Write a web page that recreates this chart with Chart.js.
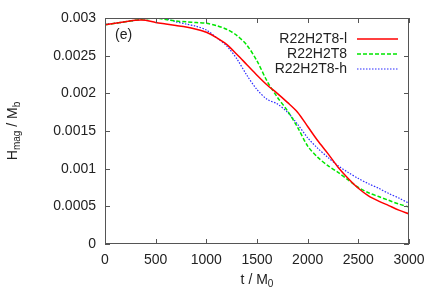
<!DOCTYPE html>
<html><head><meta charset="utf-8">
<script src="https://cdn.jsdelivr.net/npm/chart.js@4/dist/chart.umd.min.js"></script>
<style>html,body{margin:0;padding:0;background:#fff}canvas{display:block}</style>
</head><body>
<canvas id="c" width="436" height="305"></canvas>
<script>
const times = [0,100,200,300,400,500,600,700,800,900,1000,1100,1200,1300,1400,1500,1600,1700,1800,1900,2000,2100,2200,2300,2400,2500,2600,2700,2800,2900,3000];
const seriesL = [0.00291,0.00293,0.00295,0.00297,0.00297,0.00294,0.00292,0.00290,0.00288,0.00285,0.00281,0.00274,0.00265,0.00252,0.00238,0.00224,0.00211,0.00200,0.00188,0.00175,0.00156,0.00137,0.00120,0.00102,0.00087,0.00074,0.00064,0.00057,0.00051,0.00045,0.00040];
const seriesM = [0.00291,0.00293,0.00295,0.00297,0.00299,0.00300,0.00298,0.00296,0.00295,0.00294,0.00293,0.00290,0.00285,0.00277,0.00264,0.00243,0.00216,0.00195,0.00177,0.00155,0.00130,0.00115,0.00104,0.00095,0.00085,0.00075,0.00068,0.00063,0.00058,0.00053,0.00049];
const seriesH = [0.00292,0.00293,0.00295,0.00297,0.00299,0.00300,0.00299,0.00295,0.00292,0.00289,0.00284,0.00274,0.00263,0.00246,0.00224,0.00205,0.00192,0.00186,0.00175,0.00159,0.00141,0.00127,0.00115,0.00104,0.00095,0.00087,0.00080,0.00074,0.00067,0.00061,0.00054];
const seriesNames = ['R22H2T8-l','R22H2T8','R22H2T8-h'];
const xTickLabels = ['0','500','1000','1500','2000','2500','3000'];
const yTickLabels = ['0','0.0005','0.001','0.0015','0.002','0.0025','0.003'];
const panelLabel = '(e)';

const FONT = '"Liberation Sans", Arial, sans-serif';
const FS = 14;
const toXY = arr => arr.map((v,i)=>({x:times[i], y:v}));

const decor = {
  id:'decor',
  afterDraw(chart){
    const ctx = chart.ctx, a = chart.chartArea;
    const xs = chart.scales.x, ys = chart.scales.y;
    ctx.save();
    ctx.strokeStyle = '#555'; ctx.lineWidth = 1;
    ctx.strokeRect(a.left+0.5, a.top+0.5, a.right-a.left-1, a.bottom-a.top-1);
    const tl = 5;
    ctx.beginPath();
    xs.ticks.forEach(t=>{
      const px = Math.round(xs.getPixelForValue(t.value))+0.5;
      ctx.moveTo(px,a.bottom); ctx.lineTo(px,a.bottom-tl);
      ctx.moveTo(px,a.top); ctx.lineTo(px,a.top+tl);
    });
    ys.ticks.forEach(t=>{
      const py = Math.round(ys.getPixelForValue(t.value))+0.5;
      ctx.moveTo(a.left,py); ctx.lineTo(a.left+tl,py);
      ctx.moveTo(a.right,py); ctx.lineTo(a.right-tl,py);
    });
    ctx.stroke();
    ctx.fillStyle = '#222';
    ctx.font = FS+'px '+FONT;
    ctx.textAlign='left'; ctx.textBaseline='middle';
    ctx.fillText(panelLabel, a.left+10, a.top+17);
    chart.data.datasets.forEach((ds,i)=>{
      const y = a.top + 21 + i*15;
      ctx.font = FS+'px '+FONT; ctx.fillStyle='#222';
      ctx.textAlign='right'; ctx.textBaseline='middle';
      ctx.fillText(ds.label, a.left+242, y);
      ctx.beginPath();
      ctx.setLineDash(ds.borderDash||[]);
      ctx.strokeStyle = ds.borderColor; ctx.lineWidth = ds.borderWidth;
      ctx.moveTo(a.left+252, y); ctx.lineTo(a.left+293, y);
      ctx.stroke();
      ctx.setLineDash([]);
    });
    ctx.fillStyle='#222';
    const cx = (a.left+a.right)/2, ty = a.bottom+36;
    ctx.textBaseline='middle'; ctx.textAlign='left';
    const main = 't / M';
    ctx.font=FS+'px '+FONT; const w1 = ctx.measureText(main).width;
    ctx.font='10px '+FONT; const w2 = ctx.measureText('0').width;
    let sx = cx - (w1+w2)/2;
    ctx.font=FS+'px '+FONT; ctx.fillText(main, sx, ty);
    ctx.font='10px '+FONT; ctx.fillText('0', sx+w1, ty+4);
    ctx.save();
    ctx.translate(13, (a.top+a.bottom)/2);
    ctx.rotate(-Math.PI/2);
    const parts = [['H',FS,0],['mag',10,4],[' / M',FS,0],['b',10,4]];
    let tw = 0;
    parts.forEach(p=>{ctx.font=p[1]+'px '+FONT; tw+=ctx.measureText(p[0]).width;});
    let px = -tw/2;
    ctx.textAlign='left'; ctx.textBaseline='middle';
    parts.forEach(p=>{ctx.font=p[1]+'px '+FONT; ctx.fillText(p[0], px, p[2]); px+=ctx.measureText(p[0]).width;});
    ctx.restore();
    ctx.restore();
  }
};

new Chart(document.getElementById('c'), {
  type:'line',
  data:{datasets:[
    {label:seriesNames[0], data:toXY(seriesL), borderColor:'#ff0000', borderWidth:1.5, pointRadius:0, tension:0.3, fill:false},
    {label:seriesNames[1], data:toXY(seriesM), borderColor:'#00e600', borderWidth:1.5, borderDash:[4,2], pointRadius:0, tension:0.3, fill:false},
    {label:seriesNames[2], data:toXY(seriesH), borderColor:'#2a2aff', borderWidth:1.2, borderDash:[1.5,1.5], pointRadius:0, tension:0.3, fill:false}
  ]},
  options:{
    responsive:false, animation:false,
    layout:{padding:{left:0,right:27,top:18,bottom:0}},
    plugins:{legend:{display:false}, tooltip:{enabled:false}},
    scales:{
      x:{type:'linear', min:0, max:3000,
        afterFit(s){s.height=61;},
        grid:{display:false, drawTicks:false}, border:{display:false},
        ticks:{stepSize:500, padding:8, color:'#222', font:{family:FONT,size:FS}, maxRotation:0,
          callback:(v,i)=>xTickLabels[i]}},
      y:{type:'linear', min:0, max:0.003,
        afterFit(s){s.width=105;},
        grid:{display:false, drawTicks:false}, border:{display:false},
        ticks:{stepSize:0.0005, padding:9, color:'#222', font:{family:FONT,size:FS},
          callback:(v,i)=>yTickLabels[i]}}
    }
  },
  plugins:[decor]
});
</script>
</body></html>
